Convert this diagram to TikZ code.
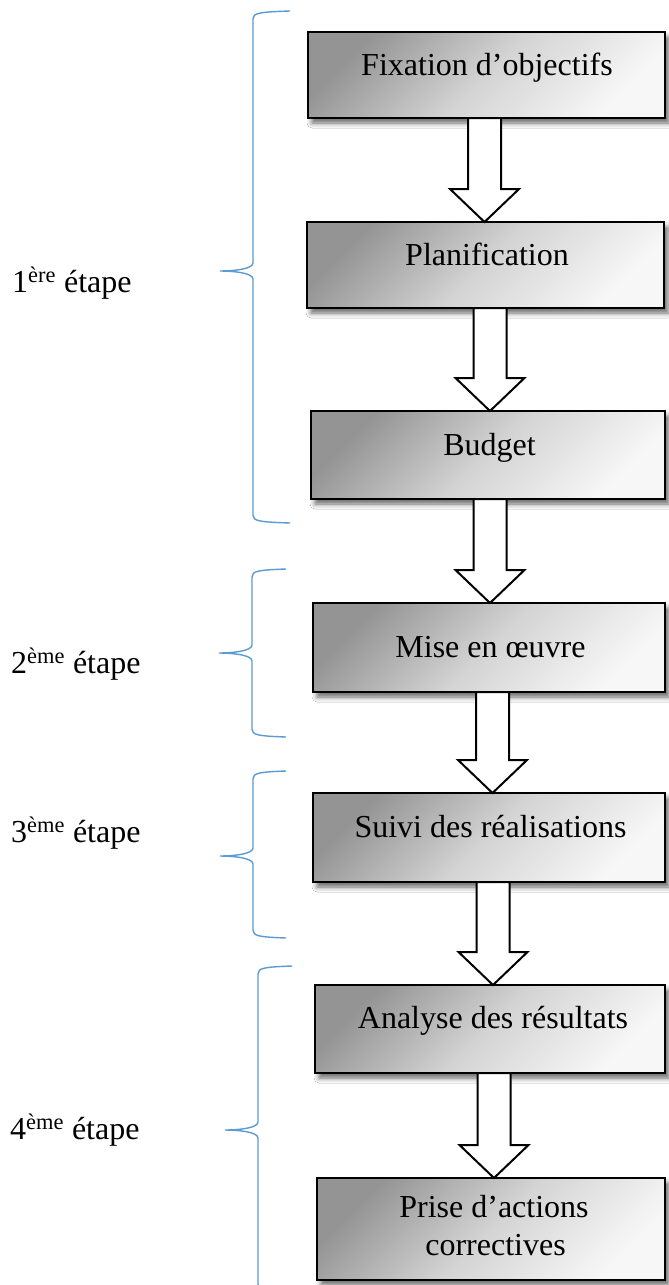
\documentclass[tikz,border=0pt]{standalone}
\usepackage{fontspec}
\setmainfont{Liberation Serif}
\usetikzlibrary{shadows.blur,calc}
\definecolor{braceblue}{HTML}{5B9BD5}
\tikzset{
  stepbox/.style={draw=black, line width=2.4pt, top color=black!42, bottom color=black!3,
    middle color=black!17, shading angle=45, inner sep=0pt, outer sep=0pt,
    blur shadow={shadow xshift=4pt, shadow yshift=-5pt, shadow blur radius=5pt, shadow opacity=60}},
  boxtext/.style={anchor=base, inner sep=0pt, font=\fontsize{32}{38}\selectfont},
  labeltext/.style={anchor=base west, inner sep=0pt, font=\fontsize{32}{38}\selectfont},
  barrow/.style={draw=black, line width=2pt, fill=white, line join=miter},
  bracestyle/.style={draw=braceblue, line width=1.4pt},
}
\newcommand{\blockarrow}[3]{%
  \draw[barrow] let \p1=(#1.south), \p2=(#2.north) in
    (#3-16.5,\y1) -- (#3-16.5,\y2+33pt) -- (#3-34.5,\y2+33pt) -- (#3,\y2)
    -- (#3+34.5,\y2+33pt) -- (#3+16.5,\y2+33pt) -- (#3+16.5,\y1) -- cycle;}
% top, bottom, spine x, tip x, tip y, arm x
\newcommand{\wordbrace}[6]{%
  \draw[bracestyle] (#6,#1) .. controls (#3+6,#1+1) and (#3,#1+2) .. (#3,#1+8)
    -- (#3,#5-8) .. controls (#3,#5-2) and (#4+14,#5) .. (#4,#5)
    .. controls (#4+14,#5) and (#3,#5+2) .. (#3,#5+8)
    -- (#3,#2-8) .. controls (#3,#2-2) and (#3+6,#2-1) .. (#6,#2);}
\begin{document}
\begin{tikzpicture}[x=1pt,y=-1pt]
\useasboundingbox[fill=white] (0,0) rectangle (669,1285);
% boxes
\node[stepbox, minimum width=357pt, minimum height=86pt] (b1) at (486.5,75) {};
\node[stepbox, minimum width=357pt, minimum height=86pt] (b2) at (485.5,265) {};
\node[stepbox, minimum width=354pt, minimum height=88pt] (b3) at (488,455) {};
\node[stepbox, minimum width=352pt, minimum height=89pt] (b4) at (489,647.5) {};
\node[stepbox, minimum width=352pt, minimum height=89pt] (b5) at (489,837.5) {};
\node[stepbox, minimum width=350pt, minimum height=88pt] (b6) at (490,1029) {};
\node[stepbox, minimum width=348pt, minimum height=102pt] (b7) at (491,1229) {};
% box texts
\node[boxtext] (t1) at (487,75) {Fixation d’objectifs};
\node[boxtext] (t2) at (487,265) {Planification};
\node[boxtext] (t3) at (489.5,455) {Budget};
\node[boxtext] (t4) at (490.5,657) {Mise en œuvre};
\node[boxtext] (t5) at (490.5,837) {Suivi des réalisations};
\node[boxtext] (t6) at (493,1028) {Analyse des résultats};
\node[boxtext] (t7a) at (494,1217) {Prise d’actions};
\node[boxtext] (t7b) at (495.5,1255) {correctives};
% arrows
\blockarrow{b1}{b2}{484.5}
\blockarrow{b2}{b3}{490}
\blockarrow{b3}{b4}{490}
\blockarrow{b4}{b5}{492.5}
\blockarrow{b5}{b6}{493}
\blockarrow{b6}{b7}{494}
% braces
\wordbrace{11}{523}{253}{220}{271}{290}
\wordbrace{569}{737}{252}{219}{653}{286}
\wordbrace{771}{938}{253}{220}{856}{286}
\wordbrace{966}{1292}{258}{225}{1130}{292}
% labels
\node[labeltext] (l1) at (12,292) {1\textsuperscript{ère} étape};
\node[labeltext] (l2) at (11,673) {2\textsuperscript{ème} étape};
\node[labeltext] (l3) at (11,842) {3\textsuperscript{ème} étape};
\node[labeltext] (l4) at (10,1139) {4\textsuperscript{ème} étape};
\end{tikzpicture}
\end{document}
